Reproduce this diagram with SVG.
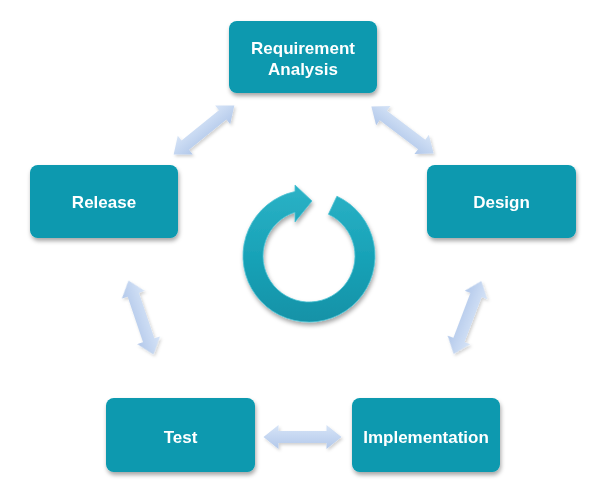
<svg xmlns="http://www.w3.org/2000/svg" xmlns:xlink="http://www.w3.org/1999/xlink" width="608" height="496" viewBox="0 0 608 496">
<style>
.box{fill:#0799AF;}
.lbl{font-family:"Liberation Sans",Arial,sans-serif;font-weight:bold;font-size:17px;fill:#FFFFFF;text-anchor:middle;}
.conn{fill:url(#arrowGrad);}
</style>
<defs>
<linearGradient id="arrowGrad" x1="0" y1="0" x2="0" y2="1">
<stop offset="0" stop-color="#D6E4F7"/>
<stop offset="1" stop-color="#B2C8EA"/>
</linearGradient>
<linearGradient id="ringGrad" x1="0" y1="0" x2="0" y2="1">
<stop offset="0" stop-color="#2CB2C6"/>
<stop offset="0.5" stop-color="#19A3B8"/>
<stop offset="1" stop-color="#1292A7"/>
</linearGradient>
<filter id="boxShadow" x="-10%" y="-10%" width="125%" height="135%">
<feDropShadow dx="1" dy="3" stdDeviation="2" flood-color="#000" flood-opacity="0.35"/>
</filter>
<filter id="arrowShadow" x="-20%" y="-20%" width="140%" height="140%">
<feDropShadow dx="1.5" dy="2" stdDeviation="1.5" flood-color="#000" flood-opacity="0.18"/>
</filter>
<path id="dblArrow" d="M -39,0 L -24,-12 L -24,-6 L 24,-6 L 24,-12 L 39,0 L 24,12 L 24,6 L -24,6 L -24,12 Z"/>
</defs>
<rect width="608" height="496" fill="#FFFFFF"/>

<g id="connectors" filter="url(#arrowShadow)">
<use xlink:href="#dblArrow" class="conn" transform="translate(204,130) rotate(-38.9)"/>
<use xlink:href="#dblArrow" class="conn" transform="translate(402.5,130) rotate(37)"/>
<use xlink:href="#dblArrow" class="conn" transform="translate(467.5,317.5) rotate(110.8)"/>
<use xlink:href="#dblArrow" class="conn" transform="translate(302.5,437)"/>
<use xlink:href="#dblArrow" class="conn" transform="translate(141,317.5) rotate(71.3)"/>
</g>

<g id="cycle" filter="url(#boxShadow)">
<path d="M 336.9,196.2 A 66 66 0 1 1 295,191.5 L 295,185 L 312,201 L 295,222 L 295,212.2 A 46 46 0 1 0 328.4,214.3 Z" fill="url(#ringGrad)" stroke="#4CC3D4" stroke-width="0.8"/>
</g>

<g id="requirement-analysis" filter="url(#boxShadow)">
<rect class="box" x="229" y="21" width="148" height="72" rx="8"/>
<text class="lbl" x="303" y="54">Requirement</text>
<text class="lbl" x="303" y="75">Analysis</text>
</g>
<g id="design" filter="url(#boxShadow)">
<rect class="box" x="427" y="165" width="149" height="73" rx="8"/>
<text class="lbl" x="501.5" y="208">Design</text>
</g>
<g id="implementation" filter="url(#boxShadow)">
<rect class="box" x="352" y="398" width="148" height="74" rx="8"/>
<text class="lbl" x="426" y="443">Implementation</text>
</g>
<g id="test" filter="url(#boxShadow)">
<rect class="box" x="106" y="398" width="149" height="74" rx="8"/>
<text class="lbl" x="180.5" y="443">Test</text>
</g>
<g id="release" filter="url(#boxShadow)">
<rect class="box" x="30" y="165" width="148" height="73" rx="8"/>
<text class="lbl" x="104" y="208">Release</text>
</g>
</svg>
